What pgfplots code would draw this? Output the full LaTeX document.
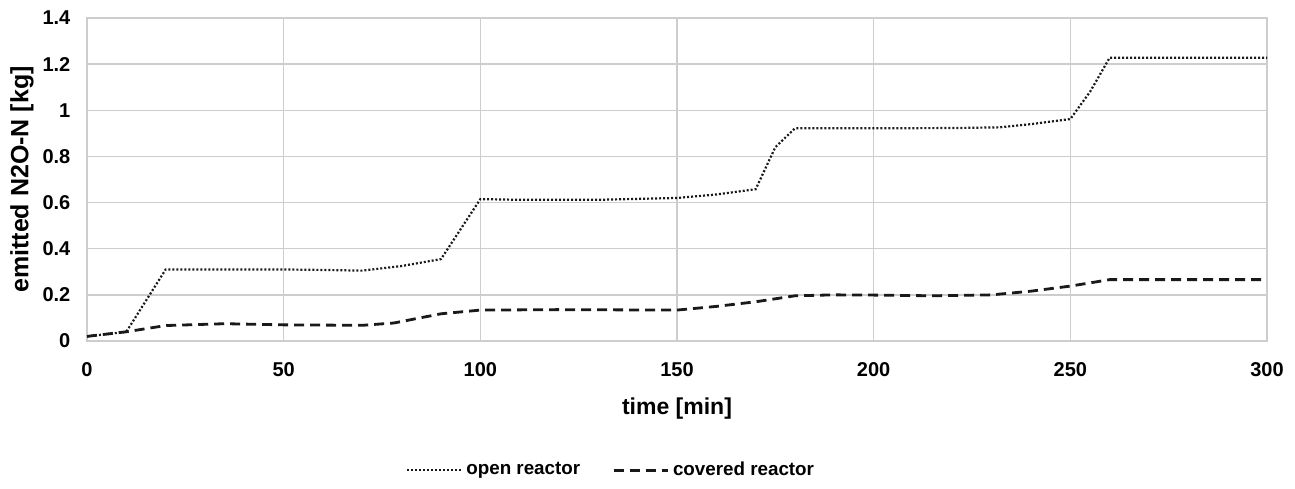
\documentclass[border=0pt]{standalone}
\usepackage{fontspec}
\setmainfont{Liberation Sans}
\usepackage{pgfplots}
\pgfplotsset{compat=1.18}
\definecolor{gridgray}{RGB}{205,205,205}
\definecolor{linegray}{RGB}{25,25,25}
\begin{document}
\fontsize{9.4}{11}\selectfont\bfseries
\begin{tikzpicture}
  \begin{axis}[
      scale only axis,
      width=590pt, height=161.5pt,
      xmin=0, xmax=300, ymin=0, ymax=1.4,
      xtick={0,50,...,300},
      ytick={0,0.2,...,1.4},
      yticklabel style={/pgf/number format/fixed, xshift=-5pt},
      xticklabel style={yshift=-7.5pt},
      /pgf/number format/assume math mode=true,
      major tick length=0pt,
      grid=major,
      grid style={gridgray, line width=0.7pt},
      axis line style={gridgray, line width=0.8pt},
      tick label style={font=\fontsize{10}{12}\selectfont\bfseries, black},
      xlabel={time [min]},
      ylabel={emitted N2O-N [kg]},
      every axis x label/.style={at={(rel axis cs:0.5,0)}, anchor=center,
        yshift=-34pt, font=\fontsize{11.5}{13}\selectfont\bfseries},
      every axis y label/.style={at={(rel axis cs:0,0.5)}, anchor=center,
        rotate=90, yshift=32.5pt, font=\fontsize{12.5}{14}\selectfont\bfseries},
      legend style={draw=none, fill=none, legend columns=2,
        at={(0.445,-0.40)}, anchor=center, font=\fontsize{9.4}{11}\selectfont\bfseries,
        /tikz/every even column/.append style={column sep=14pt}},
      legend image code/.code={\draw[#1] (0pt,0pt) -- (27pt,0pt);},
    ]
    \addplot[linegray, line width=1.1pt, dash pattern=on 1pt off 1pt] coordinates {
      (0,0.02) (10,0.04) (20,0.31) (35,0.31) (50,0.31) (60,0.308) (70,0.305)
      (80,0.325) (90,0.355) (100,0.615) (110,0.612) (130,0.612) (150,0.62)
      (160,0.635) (170,0.658) (175,0.84) (180,0.922) (200,0.922) (220,0.923)
      (232,0.926) (240,0.94) (250,0.962) (255,1.08) (260,1.228) (300,1.228)
    };
    \addlegendentry{open reactor}
    \addplot[linegray, line width=1.4pt, dash pattern=on 5pt off 3pt] coordinates {
      (0,0.02) (10,0.04) (20,0.067) (35,0.075) (50,0.07) (70,0.068) (78,0.078)
      (90,0.118) (100,0.134) (120,0.136) (150,0.134) (160,0.15) (170,0.17)
      (180,0.196) (190,0.2) (200,0.199) (215,0.196) (230,0.2) (240,0.216)
      (250,0.238) (260,0.266) (300,0.266)
    };
    \addlegendentry{covered reactor}
  \end{axis}
  \path (current axis.south west) ++(-43.5pt,-73.5pt) coordinate (bb1);
  \path (current axis.north east) ++(14pt,9pt) coordinate (bb2);
  \path[use as bounding box] (bb1) rectangle (bb2);
\end{tikzpicture}
\end{document}
